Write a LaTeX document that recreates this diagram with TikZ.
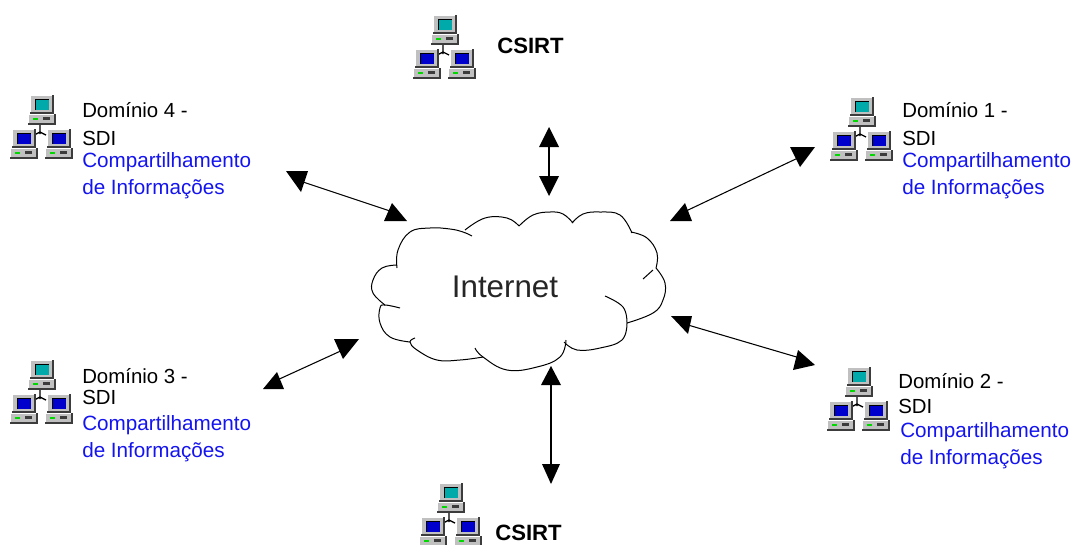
\documentclass[tikz,border=0pt]{standalone}
\usepackage{fontspec}
\setmainfont{Liberation Sans}
\definecolor{pcgray}{RGB}{192,192,192}
\definecolor{pcdark}{RGB}{60,60,60}
\definecolor{scrblue}{RGB}{0,0,205}
\definecolor{scrteal}{RGB}{0,170,170}
\definecolor{link}{RGB}{20,20,240}
\tikzset{
  x=0.75pt,y=-0.75pt,
  conn/.style={line width=0.8pt,black},
  head/.style={fill=black,draw=none},
  blk/.style={anchor=base west,inner sep=0pt,align=left,font=\fontsize{15.3}{#1}\selectfont},
  blu/.style={anchor=base west,inner sep=0pt,align=left,text=link,font=\fontsize{15.5}{20}\selectfont},
  cs/.style={anchor=base west,inner sep=0pt,font=\bfseries\fontsize{16.6}{20}\selectfont},
  cloudline/.style={line width=0.75pt,black},
  pics/pc/.style={code={
    % monitor
    \fill[pcdark] (2,1) rectangle (25.5,19.5);
    \fill[pcgray] (2,0.5) rectangle (24,18);
    \draw[white,line width=.6pt] (2.5,18)--(2.5,1)--(24,1);
    \fill[black] (7,4.5) rectangle (20.5,15.5);
    \fill[#1] (8,5.5) rectangle (20.5,15.5);
    % base
    \fill[pcdark] (0,20) rectangle (27.5,31);
    \fill[pcgray] (0,19.5) rectangle (26,29);
    \draw[white,line width=.6pt] (0.5,29)--(0.5,20)--(26,20);
    \fill[green!85!black] (5,23.5) rectangle (10,26);
    \fill[pcdark] (15,23) rectangle (22,26);
  }},
  pcgroup/.pic={
    \draw[black,line width=1pt] (30,31)--(30,40) (24,41)--(30,38)--(36,41);
    \pic at (18,0) {pc=scrteal};
    \pic at (0,34) {pc=scrblue};
    \pic at (35,34) {pc=scrblue};
  }
}
\begin{document}
\begin{tikzpicture}
\useasboundingbox (0,0) rectangle (1074,544);
\clip (0,0) rectangle (1074,544);
% computer groups
\pic at (413,14) {pcgroup};
\pic at (10,94) {pcgroup};
\pic at (830,96) {pcgroup};
\pic at (10,359) {pcgroup};
\pic at (827,366) {pcgroup};
\pic at (419,482) {pcgroup};
% cloud
\draw[cloudline] plot[smooth,tension=.7] coordinates {(397,268)(398,250)(410,232)(430,228)(450,229)(463,232)(472,236)};
\draw[cloudline] plot[smooth,tension=.7] coordinates {(465,230)(485,218)(507,218)(519,226)};
\draw[cloudline] plot[smooth,tension=.7] coordinates {(519,226)(533,215)(550,212)(563,214)(573,223)};
\draw[cloudline] plot[smooth,tension=.7] coordinates {(572,223)(583,214)(600,212)(620,215)(632,233)};
\draw[cloudline] plot[smooth,tension=.7] coordinates {(631,232)(647,238)(657,253)(656,268)};
\draw[cloudline] (653,270)--(643,279);
\draw[cloudline] plot[smooth,tension=.7] coordinates {(656,268)(665,283)(663,300)(653,313)(627,323)};
\draw[cloudline] plot[smooth,tension=.7] coordinates {(627,323)(623,307)(605,296)};
\draw[cloudline] plot[smooth,tension=.7] coordinates {(627,323)(622,340)(600,348)(577,350)(564,342)};
\draw[cloudline] plot[smooth,tension=.7] coordinates {(566,340)(560,357)(537,367)(507,370)(483,357)(475,348)};
\draw[cloudline] plot[smooth,tension=.7] coordinates {(483,357)(460,360)(437,360)(417,350)(410,342)(415,338)};
\draw[cloudline] plot[smooth,tension=.7] coordinates {(410,342)(390,337)(380,323)(380,308)(385,305)(400,308)};
\draw[cloudline] plot[smooth,tension=.7] coordinates {(385,305)(373,293)(373,280)(382,268)(397,265)};
\node[anchor=base,inner sep=0pt,font=\fontsize{23.5}{28}\selectfont,text=black!85] (inet) at (505,297) {Internet};
% connector ends
\coordinate (ta) at (549,140); \coordinate (tb) at (549,185);
\coordinate (d4a) at (303,182); \coordinate (d4b) at (390,211);
\coordinate (d1a) at (800,157); \coordinate (d1b) at (686,211);
\coordinate (d2a) at (688,325); \coordinate (d2b) at (800,358);
\coordinate (d3a) at (345,349); \coordinate (d3b) at (275,381);
\coordinate (ba) at (551,378); \coordinate (bb) at (551,470);
\draw[conn] (ta)--(tb);
\draw[conn] (d4a)--(d4b);
\draw[conn] (d1a)--(d1b);
\draw[conn] (d2a)--(d2b);
\draw[conn] (d3a)--(d3b);
\draw[conn] (ba)--(bb);
% arrowheads
\fill[head] (549,127)--(559,147)--(539,147)--cycle;
\fill[head] (549,196)--(559,176)--(539,176)--cycle;
\fill[head] (286,171)--(308,171)--(301,192)--cycle;
\fill[head] (392,203)--(407,221)--(384,221)--cycle;
\fill[head] (790,147)--(815,147)--(800,167)--cycle;
\fill[head] (685,203)--(692,221)--(670,221)--cycle;
\fill[head] (671,316)--(692,316)--(688,334)--cycle;
\fill[head] (798,350)--(815,365)--(793,370)--cycle;
\fill[head] (334,339)--(359,339)--(343,359)--cycle;
\fill[head] (263,389)--(284,389)--(277,372)--cycle;
\fill[head] (551,366)--(561,385)--(541,385)--cycle;
\fill[head] (551,484)--(560,464)--(542,464)--cycle;
% labels
\node[cs] (c1) at (497,53) {CSIRT};
\node[cs] (c2) at (495,540) {CSIRT};
\node[blk=21] (l4) at (82,145) {Domínio 4 -\\SDI};
\node[blu] (b4) at (82,194) {Compartilhamento\\de Informações};
\node[blk=21] (l1) at (902,145) {Domínio 1 -\\SDI};
\node[blu] (b1) at (902,194) {Compartilhamento\\de Informações};
\node[blk=15.75] (l3) at (82,404) {Domínio 3 -\\SDI};
\node[blu] (b3) at (82,457) {Compartilhamento\\de Informações};
\node[blk=18.75] (l2) at (898,413) {Domínio 2 -\\SDI};
\node[blu] (b2) at (900,464) {Compartilhamento\\de Informações};
\end{tikzpicture}
\end{document}
